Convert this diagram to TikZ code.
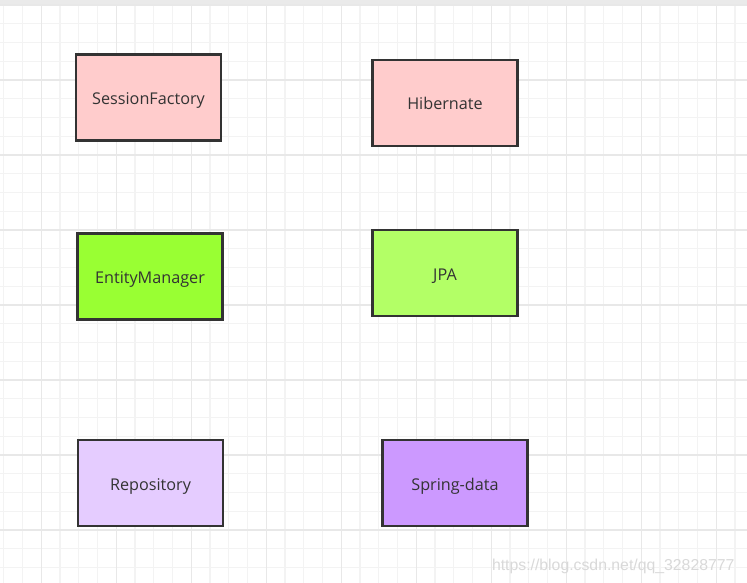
\documentclass[tikz,border=0pt]{standalone}
\usepackage{fontspec}
\setmainfont{Open Sans}
\newfontfamily\markfont{Liberation Sans}
\usetikzlibrary{positioning}
\definecolor{hibred}{HTML}{FFCCCC}
\definecolor{jpagreen}{HTML}{99FF33}
\definecolor{jpalight}{HTML}{B3FF66}
\definecolor{repolilac}{HTML}{E5CCFF}
\definecolor{springviolet}{HTML}{CC99FF}
\definecolor{edgegray}{HTML}{333333}
\definecolor{gridfine}{HTML}{F3F3F3}
\definecolor{gridmajor}{HTML}{E8E8E8}

\begin{document}
\begin{tikzpicture}[
      x=1pt,y=-1pt,
      box/.style={draw=edgegray,line width=2.2pt,minimum width=145pt,minimum height=86pt,
        text=edgegray,font=\fontsize{16.2}{18}\selectfont,align=center,
        text height=17pt,text depth=3pt},
      hib/.style={fill=hibred},
      jpa/.style={fill=jpalight},
      spring/.style={fill=springviolet}]

    \useasboundingbox (0,0) rectangle (747,583);
    \fill[white] (0,0) rectangle (747,583);
    \fill[gridfine!80!gray!60] (0,0) rectangle (747,5);

    % grid
    \foreach \k in {0,...,39}
      \draw[gridfine,line width=1.1pt] ({3.75+18.75*\k},5) -- ({3.75+18.75*\k},583);
    \foreach \k in {0,...,30}
      \draw[gridfine,line width=1.1pt] (0,{5+18.75*\k}) -- (747,{5+18.75*\k});
    \foreach \k in {0,...,9}
      \draw[gridmajor,line width=1.1pt] ({41.25+75*\k},5) -- ({41.25+75*\k},583);
    \foreach \k in {0,...,7}
      \draw[gridmajor,line width=1.1pt] (0,{5+75*\k}) -- (747,{5+75*\k});

    \node[box,hib]                (session)   at (148.5,97.5) {SessionFactory};
    \node[box,hib]                (hibernate) at (445,103)    {Hibernate};

    \node[box,fill=jpagreen]      (entity)    at (150,276.5)  {EntityManager};
    \node[box,jpa]                (jpa)       at (445,273)    {JPA};

    \node[box,fill=repolilac]     (repo)      at (150.5,483)  {Repository};
    \node[box,spring]             (springdata) at (455,483)   {Spring-data};

    \node[gray!30,font=\markfont\fontsize{15.8}{18}\selectfont,anchor=base east] (mark) at (738,570) {https://blog.csdn.net/qq\_32828777};
  \end{tikzpicture}
\end{document}
